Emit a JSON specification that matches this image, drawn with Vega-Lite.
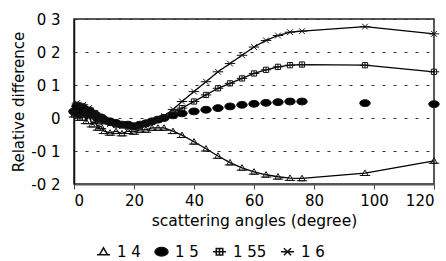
{
  "$schema": "https://vega.github.io/schema/vega-lite/v6.json",
  "width": 360,
  "height": 165,
  "autosize": "none",
  "padding": {"left": 74, "top": 19, "right": 12, "bottom": 77},
  "background": "white",
  "config": {
    "font": "DejaVu Sans",
    "view": {"stroke": "#222", "strokeWidth": 1.5}
  },
  "datasets": {
    "d": [
      {"x":0,"s":"1.4","v":0.01},{"x":1,"s":"1.4","v":0.03},{"x":2,"s":"1.4","v":0.0},{"x":3,"s":"1.4","v":0.025},{"x":4,"s":"1.4","v":-0.01},{"x":5,"s":"1.4","v":0.01},{"x":6,"s":"1.4","v":-0.02},{"x":7,"s":"1.4","v":-0.01},{"x":8,"s":"1.4","v":-0.03},{"x":9,"s":"1.4","v":-0.025},{"x":10,"s":"1.4","v":-0.04},{"x":12,"s":"1.4","v":-0.045},{"x":14,"s":"1.4","v":-0.04},{"x":16,"s":"1.4","v":-0.047},{"x":18,"s":"1.4","v":-0.04},{"x":20,"s":"1.4","v":-0.042},{"x":22,"s":"1.4","v":-0.036},{"x":24,"s":"1.4","v":-0.036},{"x":26,"s":"1.4","v":-0.03},{"x":28,"s":"1.4","v":-0.03},{"x":30,"s":"1.4","v":-0.03},{"x":33,"s":"1.4","v":-0.04},{"x":36,"s":"1.4","v":-0.052},{"x":40,"s":"1.4","v":-0.072},{"x":44,"s":"1.4","v":-0.093},{"x":48,"s":"1.4","v":-0.115},{"x":52,"s":"1.4","v":-0.135},{"x":56,"s":"1.4","v":-0.151},{"x":60,"s":"1.4","v":-0.163},{"x":64,"s":"1.4","v":-0.172},{"x":68,"s":"1.4","v":-0.178},{"x":72,"s":"1.4","v":-0.182},{"x":76,"s":"1.4","v":-0.183},{"x":97,"s":"1.4","v":-0.167},{"x":120,"s":"1.4","v":-0.13},
      {"x":0,"s":"1.5","v":0.02},{"x":1,"s":"1.5","v":0.035},{"x":2,"s":"1.5","v":0.012},{"x":3,"s":"1.5","v":0.03},{"x":4,"s":"1.5","v":0.015},{"x":5,"s":"1.5","v":0.022},{"x":6,"s":"1.5","v":0.01},{"x":7,"s":"1.5","v":0.01},{"x":8,"s":"1.5","v":0.0},{"x":9,"s":"1.5","v":0.002},{"x":10,"s":"1.5","v":-0.005},{"x":12,"s":"1.5","v":-0.01},{"x":14,"s":"1.5","v":-0.015},{"x":16,"s":"1.5","v":-0.02},{"x":18,"s":"1.5","v":-0.02},{"x":20,"s":"1.5","v":-0.025},{"x":22,"s":"1.5","v":-0.02},{"x":24,"s":"1.5","v":-0.016},{"x":26,"s":"1.5","v":-0.01},{"x":28,"s":"1.5","v":-0.005},{"x":30,"s":"1.5","v":0.0},{"x":33,"s":"1.5","v":0.008},{"x":36,"s":"1.5","v":0.014},{"x":40,"s":"1.5","v":0.02},{"x":44,"s":"1.5","v":0.025},{"x":48,"s":"1.5","v":0.03},{"x":52,"s":"1.5","v":0.035},{"x":56,"s":"1.5","v":0.04},{"x":60,"s":"1.5","v":0.043},{"x":64,"s":"1.5","v":0.046},{"x":68,"s":"1.5","v":0.048},{"x":72,"s":"1.5","v":0.05},{"x":76,"s":"1.5","v":0.05},{"x":97,"s":"1.5","v":0.045},{"x":120,"s":"1.5","v":0.042},
      {"x":0,"s":"1.55","v":0.015},{"x":1,"s":"1.55","v":0.04},{"x":2,"s":"1.55","v":0.005},{"x":3,"s":"1.55","v":0.035},{"x":4,"s":"1.55","v":0.01},{"x":5,"s":"1.55","v":0.025},{"x":6,"s":"1.55","v":0.005},{"x":7,"s":"1.55","v":0.015},{"x":8,"s":"1.55","v":-0.005},{"x":9,"s":"1.55","v":0.0},{"x":10,"s":"1.55","v":-0.01},{"x":12,"s":"1.55","v":-0.015},{"x":14,"s":"1.55","v":-0.02},{"x":16,"s":"1.55","v":-0.022},{"x":18,"s":"1.55","v":-0.025},{"x":20,"s":"1.55","v":-0.027},{"x":22,"s":"1.55","v":-0.025},{"x":24,"s":"1.55","v":-0.018},{"x":26,"s":"1.55","v":-0.012},{"x":28,"s":"1.55","v":-0.005},{"x":30,"s":"1.55","v":0.002},{"x":33,"s":"1.55","v":0.016},{"x":36,"s":"1.55","v":0.03},{"x":40,"s":"1.55","v":0.05},{"x":44,"s":"1.55","v":0.07},{"x":48,"s":"1.55","v":0.09},{"x":52,"s":"1.55","v":0.105},{"x":56,"s":"1.55","v":0.12},{"x":60,"s":"1.55","v":0.135},{"x":64,"s":"1.55","v":0.146},{"x":68,"s":"1.55","v":0.155},{"x":72,"s":"1.55","v":0.16},{"x":76,"s":"1.55","v":0.162},{"x":97,"s":"1.55","v":0.16},{"x":120,"s":"1.55","v":0.14},
      {"x":0,"s":"1.6","v":0.02},{"x":1,"s":"1.6","v":0.045},{"x":2,"s":"1.6","v":0.01},{"x":3,"s":"1.6","v":0.04},{"x":4,"s":"1.6","v":0.012},{"x":5,"s":"1.6","v":0.03},{"x":6,"s":"1.6","v":0.005},{"x":7,"s":"1.6","v":0.012},{"x":8,"s":"1.6","v":-0.005},{"x":9,"s":"1.6","v":0.0},{"x":10,"s":"1.6","v":-0.012},{"x":12,"s":"1.6","v":-0.018},{"x":14,"s":"1.6","v":-0.022},{"x":16,"s":"1.6","v":-0.025},{"x":18,"s":"1.6","v":-0.028},{"x":20,"s":"1.6","v":-0.03},{"x":22,"s":"1.6","v":-0.027},{"x":24,"s":"1.6","v":-0.02},{"x":26,"s":"1.6","v":-0.012},{"x":28,"s":"1.6","v":-0.004},{"x":30,"s":"1.6","v":0.006},{"x":33,"s":"1.6","v":0.026},{"x":36,"s":"1.6","v":0.05},{"x":40,"s":"1.6","v":0.08},{"x":44,"s":"1.6","v":0.11},{"x":48,"s":"1.6","v":0.14},{"x":52,"s":"1.6","v":0.165},{"x":56,"s":"1.6","v":0.19},{"x":60,"s":"1.6","v":0.215},{"x":64,"s":"1.6","v":0.235},{"x":68,"s":"1.6","v":0.25},{"x":72,"s":"1.6","v":0.26},{"x":76,"s":"1.6","v":0.263},{"x":97,"s":"1.6","v":0.277},{"x":120,"s":"1.6","v":0.255}
    ]
  },
  "data": {"name": "d"},
  "encoding": {
    "x": {
      "field": "x", "type": "quantitative",
      "scale": {"domain": [0, 120], "nice": false},
      "axis": {
        "values": [0, 20, 40, 60, 80, 100, 120],
        "title": "scattering angles (degree)",
        "titleFontSize": 15.5, "titleFontWeight": "normal", "titleColor": "black",
        "labelFontSize": 15, "labelColor": "black",
        "tickSize": 5, "tickColor": "#444", "domainColor": "#555", "domainWidth": 2,
        "labelPadding": 4, "titlePadding": 5, "grid": false
      }
    },
    "y": {
      "field": "v", "type": "quantitative",
      "scale": {"domain": [-0.2, 0.3], "nice": false},
      "axis": {
        "values": [-0.2, -0.1, 0, 0.1, 0.2, 0.3],
        "labelExpr": "datum.value == 0 ? '0' : replace(replace(format(datum.value, '.1f'), '.', ' '), '\u2212', '-')",
        "title": "Relative difference",
        "titleFontSize": 15, "titleFontWeight": "normal", "titleColor": "black",
        "labelFontSize": 15, "labelColor": "black",
        "ticks": false, "labelPadding": 14, "titlePadding": 4,
        "domainColor": "#111", "domainWidth": 1.5,
        "grid": true, "gridDash": [3, 8], "gridColor": "#333", "gridWidth": 1
      }
    }
  },
  "layer": [
    {
      "transform": [{"filter": "datum.s != '1.5'"}],
      "mark": {"type": "line", "color": "black", "strokeWidth": 1.3},
      "encoding": {"detail": {"field": "s"}}
    },
    {
      "mark": {"type": "point", "filled": false, "stroke": "#111", "strokeWidth": 1, "opacity": 1},
      "encoding": {
        "shape": {
          "field": "s", "type": "nominal",
          "scale": {
            "domain": ["1.4", "1.5", "1.55", "1.6"],
            "range": [
              "M-1,0.45H1M-0.6,0.45L0,-0.6L0.6,0.45Z",
              "M-1,0A1,0.65,0,1,1,1,0A1,0.65,0,1,1,-1,0Z",
              "M-1,0H1M-0.5,-0.5H0.5V0.5H-0.5ZM0,-0.5V0.5",
              "M-1,0H1M-0.55,-0.55L0.55,0.55M-0.55,0.55L0.55,-0.55"
            ]
          },
          "legend": {
            "title": null, "orient": "none", "direction": "horizontal",
            "legendX": 22, "legendY": 225,
            "labelFontSize": 15, "labelColor": "black",
            "labelExpr": "replace(datum.label, '.', ' ')",
            "symbolSize": 170,
            "columnPadding": 10, "labelOffset": 6,
            "encode": {"symbols": {"update": {"stroke": {"value": "#111"}, "strokeWidth": {"value": 1}}}}
          }
        },
        "fill": {
          "field": "s", "type": "nominal",
          "scale": {"domain": ["1.4", "1.5", "1.55", "1.6"], "range": ["transparent", "black", "transparent", "transparent"]},
          "legend": {
            "title": null, "orient": "none", "direction": "horizontal",
            "legendX": 22, "legendY": 225,
            "labelFontSize": 15, "labelColor": "black",
            "labelExpr": "replace(datum.label, '.', ' ')",
            "symbolSize": 170,
            "columnPadding": 10, "labelOffset": 6,
            "encode": {"symbols": {"update": {"stroke": {"value": "#111"}, "strokeWidth": {"value": 1}}}}
          }
        },
        "size": {"value": 110}
      }
    }
  ]
}
